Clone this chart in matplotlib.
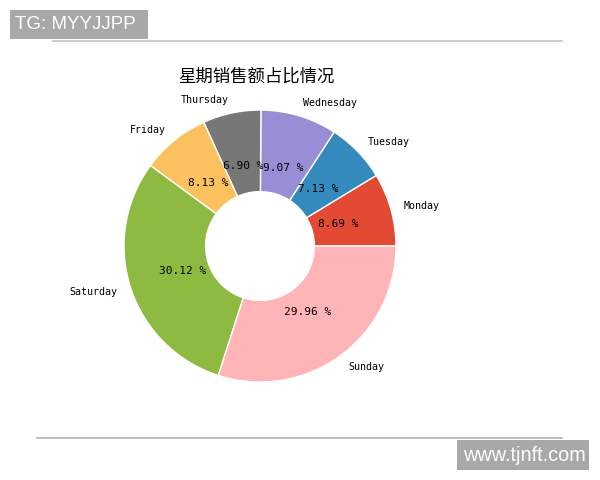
import matplotlib
matplotlib.use("Agg")
import matplotlib.pyplot as plt
from matplotlib.lines import Line2D
from matplotlib.patches import Rectangle

plt.rcParams['font.family'] = ['Noto Sans CJK SC', 'DejaVu Sans']

# 数据
days = ['Monday', 'Tuesday', 'Wednesday', 'Thursday', 'Friday', 'Saturday', 'Sunday']
shares = [8.69, 7.13, 9.07, 6.90, 8.13, 30.12, 29.96]
colors = ['#E24A33', '#348ABD', '#988ED5', '#777777', '#FBC15E', '#8EBA42', '#FFB5B8']

fig = plt.figure(figsize=(6, 4.8), dpi=100)
ax = fig.add_axes([0.15, 0.1333, 0.5667, 0.7083])

wedges, texts, autotexts = ax.pie(
    shares, labels=days, colors=colors, autopct='%.2f %%',
    pctdistance=0.6, labeldistance=1.1, startangle=0,
    wedgeprops=dict(width=0.6, edgecolor='white', linewidth=1),
    textprops=dict(fontsize=7.5, color='black'))
for t in texts:
    t.set_family(['DejaVu Sans Mono'])
    t.set_fontsize(7.2)
for t in autotexts:
    t.set_family(['DejaVu Sans Mono'])
    t.set_fontsize(8)
ax.set_aspect('equal')
ax.set_title('星期销售额占比情况', fontsize=12.5, x=0.49, y=0.985, pad=0)

# 截图边框与水印
fig.add_artist(Line2D([0.088, 0.937], [0.915, 0.915], color='#c4c4c4', lw=1.2))
fig.add_artist(Line2D([0.062, 0.937], [0.0875, 0.0875], color='#b0b0b0', lw=1.2))
fig.add_artist(Rectangle((0.0167, 0.9188), 0.23, 0.0604, transform=fig.transFigure,
                         facecolor='#a8a8a8', edgecolor='none'))
fig.text(0.025, 0.949, 'TG: MYYJJPP', fontsize=13.5, color='white', va='center',
         family=['Liberation Sans'])
fig.add_artist(Rectangle((0.7617, 0.0208), 0.22, 0.0625, transform=fig.transFigure,
                         facecolor='#a8a8a8', edgecolor='none'))
fig.text(0.7717, 0.052, 'www.tjnft.com', fontsize=14.3, color='white', va='center',
         family=['Liberation Sans'])

fig.savefig('out.png', dpi=100)
